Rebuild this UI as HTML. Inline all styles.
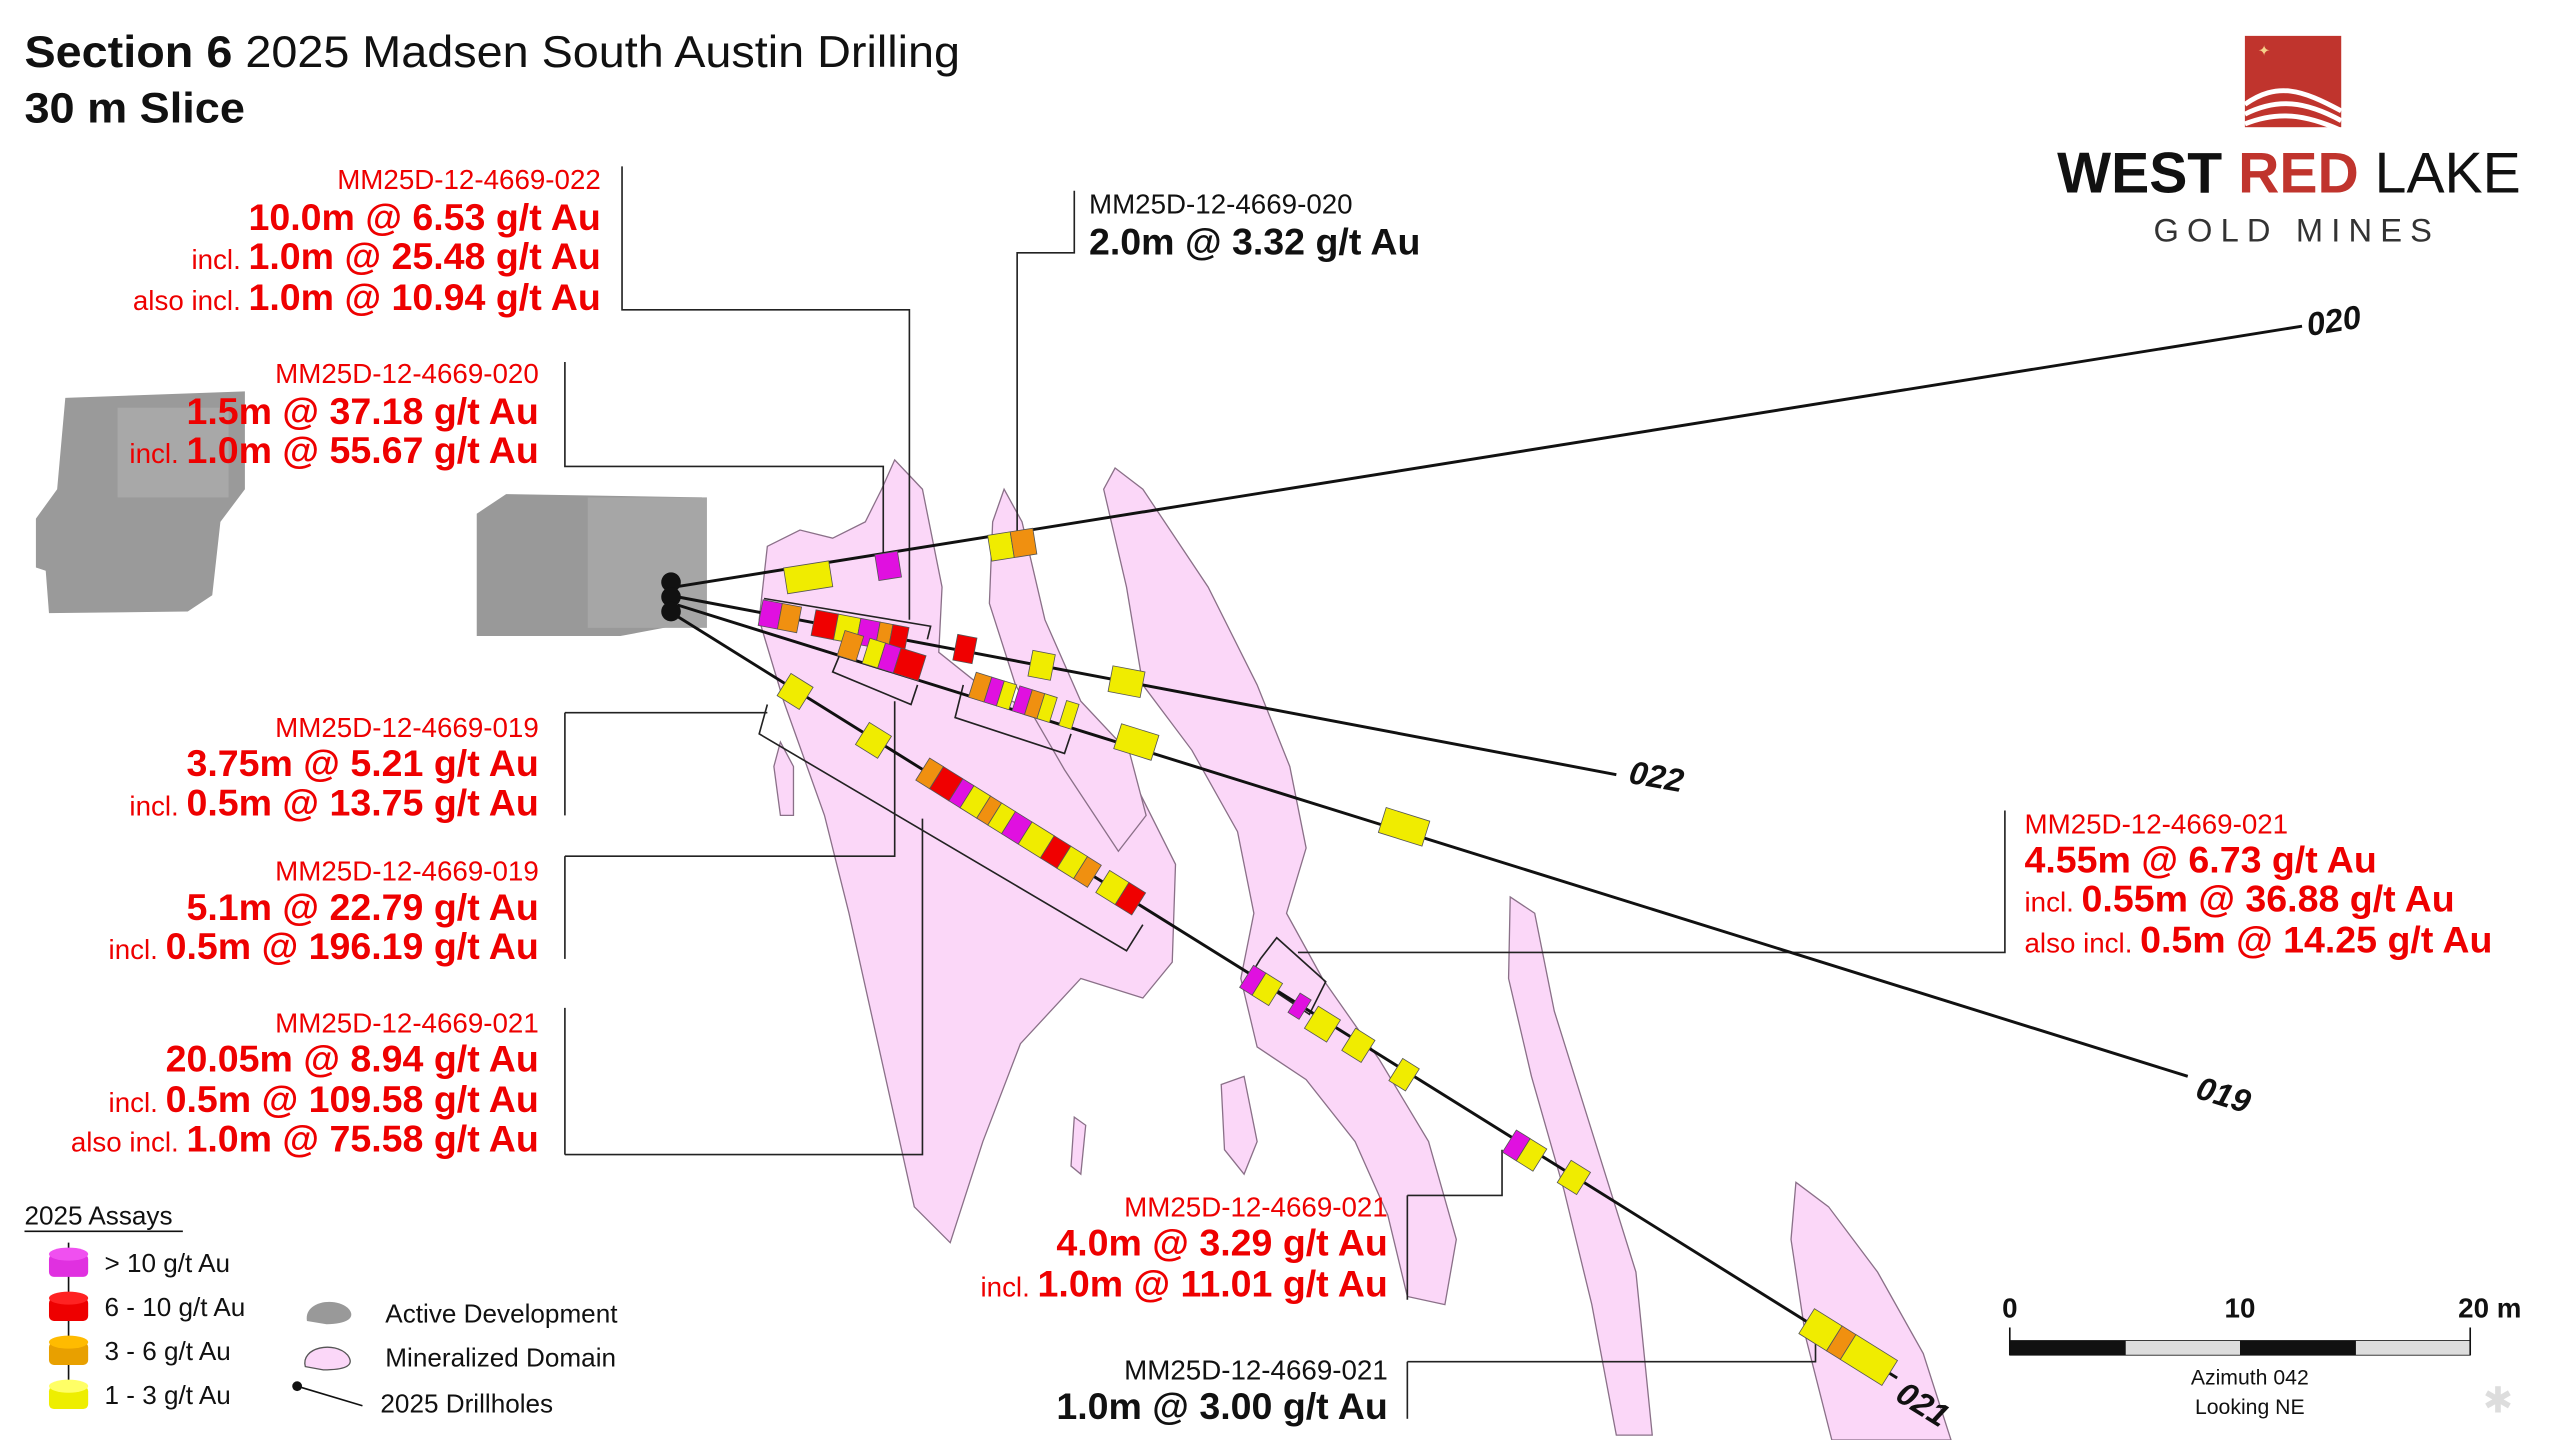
<!DOCTYPE html>
<html><head><meta charset="utf-8"><style>
html,body{margin:0;padding:0;background:#fff;}
svg{display:block}
text{font-family:"Liberation Sans Narrow","Liberation Sans",sans-serif;}
</style></head><body>
<svg width="2560" height="1440" viewBox="0 0 1568 883" preserveAspectRatio="none" xmlns="http://www.w3.org/2000/svg">
<rect width="1568" height="883" fill="#fff"/>
<!-- title -->
<text x="15" y="41" font-size="27" fill="#111" textLength="573" lengthAdjust="spacingAndGlyphs"><tspan font-weight="bold">Section 6</tspan> 2025 Madsen South Austin Drilling</text>
<text x="15" y="75" font-size="26" font-weight="bold" fill="#111" textLength="135" lengthAdjust="spacingAndGlyphs">30 m Slice</text>

<!-- logo -->
<rect x="1375" y="22" width="59" height="56" fill="#c0342d"/>
<path d="M1375,64 C1395,50 1410,55 1434,68 M1375,70 C1395,60 1412,62 1434,74 M1375,76 C1395,68 1412,70 1434,80" stroke="#fff" stroke-width="3" fill="none"/>
<text x="1383" y="34" font-size="9" fill="#f5d08a">✦</text>
<text x="1260" y="118" font-size="35" font-weight="bold" fill="#111" font-family="Liberation Sans" textLength="284" lengthAdjust="spacingAndGlyphs">WEST <tspan fill="#c0342d">RED</tspan> <tspan font-weight="normal">LAKE</tspan></text>
<text x="1319" y="148" font-size="20" fill="#333" font-family="Liberation Sans" letter-spacing="5">GOLD MINES</text>

<!-- development -->
<path d="M40,244 L150,240 L150,300 L135,320 L130,365 L115,375 L30,376 L28,350 L22,348 L22,318 L35,300 Z" fill="#9a9a9a"/>
<rect x="72" y="250" width="68" height="55" fill="#a8a8a8"/>
<path d="M292,315 L310,303 L430,305 L433,380 L380,390 L292,390 Z" fill="#999"/>
<rect x="360" y="305" width="73" height="80" fill="#a6a6a6"/>

<!-- mineralized domains -->
<g fill="#fbd7f8" stroke="#8a7088" stroke-width="0.8">
<path d="M470,335 L490,325 L510,330 L530,320 L540,300 L548,282 L565,300 L577,360 L575,400 L600,420 L640,440 L690,470 L720,530 L718,590 L700,612 L662,600 L625,640 L602,700 L582,762 L560,740 L540,650 L520,560 L505,500 L480,430 L465,380 Z"/>
<path d="M683,287 L700,300 L740,360 L770,420 L790,470 L800,520 L788,560 L810,600 L845,650 L875,700 L892,760 L885,800 L862,795 L850,745 L830,700 L800,662 L770,642 L760,600 L768,560 L758,510 L730,460 L700,420 L690,360 L676,300 Z"/>
<path d="M615,300 L626,320 L640,380 L662,430 L692,462 L702,500 L685,522 L652,472 L622,420 L606,370 L608,320 Z"/>
<path d="M925,550 L940,560 L952,620 L977,700 L1002,780 L1012,880 L990,880 L975,800 L958,730 L938,660 L924,600 Z"/>
<path d="M1100,725 L1120,740 L1150,780 L1178,830 L1195,883 L1122,883 L1106,820 L1097,760 Z"/>
<path d="M478,455 L486,470 L486,500 L478,500 L474,470 Z"/>
<path d="M658,685 L665,690 L662,720 L656,715 Z"/>
<path d="M748,665 L762,660 L770,700 L762,720 L750,705 Z"/>
</g>

<!-- leader lines -->
<g stroke="#222" stroke-width="1" fill="none">
<polyline points="381,102 381,190 557,190 557,380"/>
<polyline points="346,222 346,286 541,286 541,340"/>
<polyline points="658,117 658,155 623,155 623,330"/>
<polyline points="346,437 346,500"/><polyline points="346,437 470,437"/>
<polyline points="346,525 346,588"/><polyline points="346,525 548,525 548,430"/>
<polyline points="346,618 346,708"/><polyline points="346,708 565,708 565,502"/>
<polyline points="1228,497 1228,584 795,584"/>
<polyline points="862,733 862,797"/><polyline points="862,733 920,733 920,705"/>
<polyline points="862,835 862,870"/><polyline points="862,835 1112,835 1112,822"/>
<polyline points="468,367 570,384 568,392"/>
<polyline points="515,400 510,412 558,432 562,420"/>
<polyline points="590,420 585,440 652,462 656,450"/>
<polyline points="470,432 465,450 690,583 700,567"/>
<polyline points="772,588 766,598 802,622 812,602 782,575 772,588"/>
</g>

<!-- drillholes -->
<g stroke="#111" stroke-width="1.8">
<line x1="413" y1="360" x2="1410" y2="200"/>
<line x1="415" y1="366" x2="990" y2="475"/>
<line x1="415" y1="371" x2="1340" y2="660"/>
<line x1="415" y1="378" x2="1162" y2="845"/>
</g>
<g fill="#111"><circle cx="411" cy="357" r="6"/><circle cx="411" cy="366" r="6"/><circle cx="411" cy="375" r="6"/></g>
<g font-size="20" font-weight="bold" font-style="italic" fill="#111">
<text transform="translate(1414,206) rotate(-9)">020</text>
<text transform="translate(997,480) rotate(10)">022</text>
<text transform="translate(1344,673) rotate(17)">019</text>
<text transform="translate(1160,858) rotate(32)">021</text>
</g>

<!-- cylinders -->
<g stroke="#555" stroke-width="0.5">
<g transform="rotate(-9 495 354)"><rect x="481" y="346" width="28" height="16" fill="#f0ec00"/></g>
<g transform="rotate(-9 544 347)"><rect x="537" y="339" width="14" height="16" fill="#e010e0"/></g>
<g transform="rotate(-9 620 334)"><rect x="606" y="326" width="14" height="16" fill="#f0ec00"/><rect x="620" y="326" width="14" height="16" fill="#f09010"/></g>
<g transform="rotate(10.8 515 385)">
<rect x="465" y="377" width="12" height="16" fill="#e010e0"/><rect x="477" y="377" width="12" height="16" fill="#f09010"/>
<rect x="498" y="377" width="14" height="16" fill="#f00000"/><rect x="512" y="377" width="14" height="16" fill="#f0ec00"/>
<rect x="526" y="377" width="12" height="16" fill="#e010e0"/><rect x="538" y="377" width="8" height="16" fill="#f09010"/><rect x="546" y="377" width="10" height="16" fill="#f00000"/>
</g>
<g transform="rotate(10.8 591 398)"><rect x="585" y="390" width="12" height="16" fill="#f00000"/></g>
<g transform="rotate(10.8 638 408)"><rect x="631" y="400" width="14" height="16" fill="#f0ec00"/></g>
<g transform="rotate(10.8 690 418)"><rect x="680" y="410" width="20" height="16" fill="#f0ec00"/></g>
<g transform="rotate(17.4 540 402)">
<rect x="514" y="394" width="12" height="16" fill="#f09010"/><rect x="530" y="394" width="10" height="16" fill="#f0ec00"/>
<rect x="540" y="394" width="10" height="16" fill="#e010e0"/><rect x="550" y="394" width="16" height="16" fill="#f00000"/>
</g>
<g transform="rotate(17.4 628 430)">
<rect x="594" y="422" width="10" height="16" fill="#f09010"/><rect x="604" y="422" width="8" height="16" fill="#e010e0"/><rect x="612" y="422" width="8" height="16" fill="#f0ec00"/>
<rect x="622" y="422" width="8" height="16" fill="#e010e0"/><rect x="630" y="422" width="8" height="16" fill="#f09010"/><rect x="638" y="422" width="8" height="16" fill="#f0ec00"/><rect x="652" y="422" width="8" height="16" fill="#f0ec00"/>
</g>
<g transform="rotate(17.4 696 455)"><rect x="684" y="447" width="24" height="16" fill="#f0ec00"/></g>
<g transform="rotate(17.4 860 507)"><rect x="846" y="499" width="28" height="16" fill="#f0ec00"/></g>
<g transform="rotate(32 487 424)"><rect x="479" y="416" width="16" height="16" fill="#f0ec00"/></g>
<g transform="rotate(32 535 454)"><rect x="527" y="446" width="16" height="16" fill="#f0ec00"/></g>
<g transform="rotate(32 633 514)">
<rect x="553" y="506" width="10" height="16" fill="#f09010"/><rect x="563" y="506" width="14" height="16" fill="#f00000"/><rect x="577" y="506" width="8" height="16" fill="#e010e0"/>
<rect x="585" y="506" width="12" height="16" fill="#f0ec00"/><rect x="597" y="506" width="8" height="16" fill="#f09010"/><rect x="605" y="506" width="10" height="16" fill="#f0ec00"/>
<rect x="615" y="506" width="12" height="16" fill="#e010e0"/><rect x="627" y="506" width="16" height="16" fill="#f0ec00"/><rect x="643" y="506" width="12" height="16" fill="#f00000"/>
<rect x="655" y="506" width="12" height="16" fill="#f0ec00"/><rect x="667" y="506" width="10" height="16" fill="#f09010"/>
<rect x="683" y="506" width="14" height="16" fill="#f0ec00"/><rect x="697" y="506" width="12" height="16" fill="#f00000"/>
</g>
<g transform="rotate(32 772 604)"><rect x="762" y="596" width="9" height="16" fill="#e010e0"/><rect x="771" y="596" width="12" height="16" fill="#f0ec00"/></g>
<g transform="rotate(32 796 617)"><rect x="792" y="610" width="8" height="14" fill="#e010e0"/></g>
<g transform="rotate(32 810 628)"><rect x="802" y="620" width="16" height="16" fill="#f0ec00"/></g>
<g transform="rotate(32 832 641)"><rect x="825" y="633" width="14" height="16" fill="#f0ec00"/></g>
<g transform="rotate(32 860 659)"><rect x="854" y="651" width="12" height="16" fill="#f0ec00"/></g>
<g transform="rotate(32 933 705)"><rect x="923" y="697" width="10" height="16" fill="#e010e0"/><rect x="933" y="697" width="12" height="16" fill="#f0ec00"/></g>
<g transform="rotate(32 964 722)"><rect x="957" y="714" width="14" height="16" fill="#f0ec00"/></g>
<g transform="rotate(32 1132 826)"><rect x="1102" y="817" width="20" height="18" fill="#f0ec00"/><rect x="1122" y="817" width="10" height="18" fill="#f09010"/><rect x="1132" y="817" width="30" height="18" fill="#f0ec00"/></g>
</g>

<!-- labels -->
<g font-size="17">
<text x="368" y="116" text-anchor="end" fill="#e00">MM25D-12-4669-022</text>
<text x="330" y="235" text-anchor="end" fill="#e00">MM25D-12-4669-020</text>
<text x="330" y="452" text-anchor="end" fill="#e00">MM25D-12-4669-019</text>
<text x="330" y="540" text-anchor="end" fill="#e00">MM25D-12-4669-019</text>
<text x="330" y="633" text-anchor="end" fill="#e00">MM25D-12-4669-021</text>
<text x="1240" y="511" fill="#e00">MM25D-12-4669-021</text>
<text x="850" y="746" text-anchor="end" fill="#e00">MM25D-12-4669-021</text>
</g>
<g font-size="23" font-weight="bold" fill="#e00">
<text x="368" y="141" text-anchor="end">10.0m @ 6.53 g/t Au</text>
<text x="368" y="165" text-anchor="end"><tspan font-size="17" font-weight="normal">incl. </tspan>1.0m @ 25.48 g/t Au</text>
<text x="368" y="190" text-anchor="end"><tspan font-size="17" font-weight="normal">also incl. </tspan>1.0m @ 10.94 g/t Au</text>
<text x="330" y="260" text-anchor="end">1.5m @ 37.18 g/t Au</text>
<text x="330" y="284" text-anchor="end"><tspan font-size="17" font-weight="normal">incl. </tspan>1.0m @ 55.67 g/t Au</text>
<text x="330" y="476" text-anchor="end">3.75m @ 5.21 g/t Au</text>
<text x="330" y="500" text-anchor="end"><tspan font-size="17" font-weight="normal">incl. </tspan>0.5m @ 13.75 g/t Au</text>
<text x="330" y="564" text-anchor="end">5.1m @ 22.79 g/t Au</text>
<text x="330" y="588" text-anchor="end"><tspan font-size="17" font-weight="normal">incl. </tspan>0.5m @ 196.19 g/t Au</text>
<text x="330" y="657" text-anchor="end">20.05m @ 8.94 g/t Au</text>
<text x="330" y="682" text-anchor="end"><tspan font-size="17" font-weight="normal">incl. </tspan>0.5m @ 109.58 g/t Au</text>
<text x="330" y="706" text-anchor="end"><tspan font-size="17" font-weight="normal">also incl. </tspan>1.0m @ 75.58 g/t Au</text>
<text x="1240" y="535">4.55m @ 6.73 g/t Au</text>
<text x="1240" y="559"><tspan font-size="17" font-weight="normal">incl. </tspan>0.55m @ 36.88 g/t Au</text>
<text x="1240" y="584"><tspan font-size="17" font-weight="normal">also incl. </tspan>0.5m @ 14.25 g/t Au</text>
<text x="850" y="770" text-anchor="end">4.0m @ 3.29 g/t Au</text>
<text x="850" y="795" text-anchor="end"><tspan font-size="17" font-weight="normal">incl. </tspan>1.0m @ 11.01 g/t Au</text>
</g>
<text x="667" y="131" font-size="17" fill="#111">MM25D-12-4669-020</text>
<text x="667" y="156" font-size="23" font-weight="bold" fill="#111">2.0m @ 3.32 g/t Au</text>
<text x="850" y="846" font-size="17" fill="#111" text-anchor="end">MM25D-12-4669-021</text>
<text x="850" y="870" font-size="23" font-weight="bold" fill="#111" text-anchor="end">1.0m @ 3.00 g/t Au</text>

<!-- legend -->
<text x="15" y="751" font-size="16" fill="#111">2025 Assays</text>
<line x1="15" y1="755" x2="112" y2="755" stroke="#111" stroke-width="1"/>
<line x1="42" y1="762" x2="42" y2="856" stroke="#111" stroke-width="1"/>
<g stroke="none">
<rect x="30" y="769" width="24" height="14" rx="3" fill="#e030e0"/><ellipse cx="42" cy="769" rx="12" ry="4" fill="#f050f0"/>
<rect x="30" y="796" width="24" height="14" rx="3" fill="#e00"/><ellipse cx="42" cy="796" rx="12" ry="4" fill="#f22"/>
<rect x="30" y="823" width="24" height="14" rx="3" fill="#e8a000"/><ellipse cx="42" cy="823" rx="12" ry="4" fill="#fb0"/>
<rect x="30" y="850" width="24" height="14" rx="3" fill="#eeee00"/><ellipse cx="42" cy="850" rx="12" ry="4" fill="#ff6"/>
</g>
<g font-size="16" fill="#111">
<text x="64" y="780">&gt; 10 g/t Au</text>
<text x="64" y="807">6 - 10 g/t Au</text>
<text x="64" y="834">3 - 6 g/t Au</text>
<text x="64" y="861">1 - 3 g/t Au</text>
<text x="236" y="811">Active Development</text>
<text x="236" y="838">Mineralized Domain</text>
<text x="233" y="866">2025 Drillholes</text>
</g>
<path d="M188,810 C186,798 205,795 213,802 C219,808 212,812 200,812 Z" fill="#999"/>
<path d="M187,838 C184,826 205,822 213,831 C218,838 210,840 198,840 Z" fill="#fbd7f8" stroke="#555" stroke-width="0.8"/>
<circle cx="182" cy="850" r="3" fill="#111"/><line x1="182" y1="850" x2="222" y2="862" stroke="#111" stroke-width="1"/>

<!-- scale -->
<g font-size="17" font-weight="bold" fill="#111" font-family="Liberation Sans">
<text x="1231" y="808" text-anchor="middle">0</text>
<text x="1372" y="808" text-anchor="middle">10</text>
<text x="1525" y="808" text-anchor="middle">20 m</text>
</g>
<rect x="1231" y="822" width="282" height="9" fill="#ddd" stroke="#111" stroke-width="0.5"/>
<rect x="1231" y="822" width="71" height="9" fill="#111"/>
<rect x="1372" y="822" width="71" height="9" fill="#111"/>
<line x1="1231" y1="814" x2="1231" y2="831" stroke="#111"/><line x1="1513" y1="814" x2="1513" y2="831" stroke="#111"/>
<text x="1378" y="849" font-size="13" text-anchor="middle" fill="#111">Azimuth 042</text>
<text x="1378" y="867" font-size="13" text-anchor="middle" fill="#111">Looking NE</text>
<text x="1530" y="866" font-size="22" text-anchor="middle" fill="#ddd">✱</text>
</svg>
</body></html>
